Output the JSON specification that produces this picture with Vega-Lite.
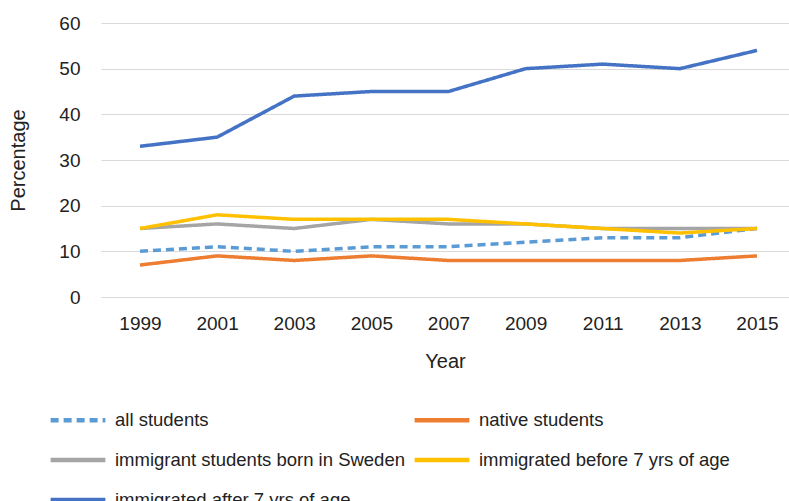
{
  "$schema": "https://vega.github.io/schema/vega-lite/v6.json",
  "width": 688,
  "height": 274,
  "autosize": {"type": "none"},
  "padding": {"left": 101, "top": 23, "right": 0, "bottom": 204},
  "background": "white",
  "config": {
    "view": {"stroke": null},
    "font": "Liberation Sans",
    "axis": {"labelFont": "Liberation Sans", "titleFont": "Liberation Sans", "labelColor": "#222222", "titleColor": "#222222", "titleFontWeight": "normal"}
  },
  "data": {
    "values": [
      {"year": 1999, "series": "all students", "value": 10},
      {"year": 2001, "series": "all students", "value": 11},
      {"year": 2003, "series": "all students", "value": 10},
      {"year": 2005, "series": "all students", "value": 11},
      {"year": 2007, "series": "all students", "value": 11},
      {"year": 2009, "series": "all students", "value": 12},
      {"year": 2011, "series": "all students", "value": 13},
      {"year": 2013, "series": "all students", "value": 13},
      {"year": 2015, "series": "all students", "value": 15},
      {"year": 1999, "series": "native students", "value": 7},
      {"year": 2001, "series": "native students", "value": 9},
      {"year": 2003, "series": "native students", "value": 8},
      {"year": 2005, "series": "native students", "value": 9},
      {"year": 2007, "series": "native students", "value": 8},
      {"year": 2009, "series": "native students", "value": 8},
      {"year": 2011, "series": "native students", "value": 8},
      {"year": 2013, "series": "native students", "value": 8},
      {"year": 2015, "series": "native students", "value": 9},
      {"year": 1999, "series": "immigrant students born in Sweden", "value": 15},
      {"year": 2001, "series": "immigrant students born in Sweden", "value": 16},
      {"year": 2003, "series": "immigrant students born in Sweden", "value": 15},
      {"year": 2005, "series": "immigrant students born in Sweden", "value": 17},
      {"year": 2007, "series": "immigrant students born in Sweden", "value": 16},
      {"year": 2009, "series": "immigrant students born in Sweden", "value": 16},
      {"year": 2011, "series": "immigrant students born in Sweden", "value": 15},
      {"year": 2013, "series": "immigrant students born in Sweden", "value": 15},
      {"year": 2015, "series": "immigrant students born in Sweden", "value": 15},
      {"year": 1999, "series": "immigrated before 7 yrs of age", "value": 15},
      {"year": 2001, "series": "immigrated before 7 yrs of age", "value": 18},
      {"year": 2003, "series": "immigrated before 7 yrs of age", "value": 17},
      {"year": 2005, "series": "immigrated before 7 yrs of age", "value": 17},
      {"year": 2007, "series": "immigrated before 7 yrs of age", "value": 17},
      {"year": 2009, "series": "immigrated before 7 yrs of age", "value": 16},
      {"year": 2011, "series": "immigrated before 7 yrs of age", "value": 15},
      {"year": 2013, "series": "immigrated before 7 yrs of age", "value": 14},
      {"year": 2015, "series": "immigrated before 7 yrs of age", "value": 15},
      {"year": 1999, "series": "immigrated after 7 yrs of age", "value": 33},
      {"year": 2001, "series": "immigrated after 7 yrs of age", "value": 35},
      {"year": 2003, "series": "immigrated after 7 yrs of age", "value": 44},
      {"year": 2005, "series": "immigrated after 7 yrs of age", "value": 45},
      {"year": 2007, "series": "immigrated after 7 yrs of age", "value": 45},
      {"year": 2009, "series": "immigrated after 7 yrs of age", "value": 50},
      {"year": 2011, "series": "immigrated after 7 yrs of age", "value": 51},
      {"year": 2013, "series": "immigrated after 7 yrs of age", "value": 50},
      {"year": 2015, "series": "immigrated after 7 yrs of age", "value": 54}
    ]
  },
  "mark": {"type": "line", "strokeWidth": 3.5, "strokeCap": "butt", "interpolate": "linear"},
  "encoding": {
    "x": {
      "field": "year", "type": "quantitative",
      "scale": {"domain": [1997.989, 2015.83], "nice": false, "zero": false},
      "axis": {
        "title": "Year", "values": [1999, 2001, 2003, 2005, 2007, 2009, 2011, 2013, 2015],
        "format": "d", "grid": false, "domain": false, "ticks": false,
        "labelFontSize": 19, "labelPadding": 17, "titleFontSize": 20, "titlePadding": 18
      }
    },
    "y": {
      "field": "value", "type": "quantitative",
      "scale": {"domain": [0, 60], "nice": false},
      "axis": {
        "title": "Percentage", "values": [0, 10, 20, 30, 40, 50, 60],
        "grid": true, "gridColor": "#D9D9D9", "gridWidth": 1.2, "domain": false, "ticks": false,
        "labelFontSize": 19, "labelPadding": 21, "titleFontSize": 20, "titlePadding": 30
      }
    },
    "color": {
      "field": "series", "type": "nominal",
      "scale": {
        "domain": ["all students", "native students", "immigrant students born in Sweden", "immigrated before 7 yrs of age", "immigrated after 7 yrs of age"],
        "range": ["#5B9BD5", "#ED7D31", "#A5A5A5", "#FFC000", "#4472C4"]
      },
      "legend": {
        "title": null, "orient": "none", "legendX": -53, "legendY": 367,
        "direction": "horizontal",
        "columns": 2, "columnPadding": 0, "rowPadding": 0,
        "symbolType": "stroke", "symbolSize": 3000, "symbolStrokeWidth": 4.5,
        "labelFontSize": 18.5, "labelFont": "Liberation Sans", "labelColor": "#222222", "labelOffset": 7, "labelLimit": 400
      }
    },
    "strokeDash": {
      "field": "series", "type": "nominal",
      "scale": {
        "domain": ["all students", "native students", "immigrant students born in Sweden", "immigrated before 7 yrs of age", "immigrated after 7 yrs of age"],
        "range": [[8, 5], [1, 0], [1, 0], [1, 0], [1, 0]]
      },
      "legend": null
    },
    "order": {"field": "year", "type": "quantitative"}
  }
}
